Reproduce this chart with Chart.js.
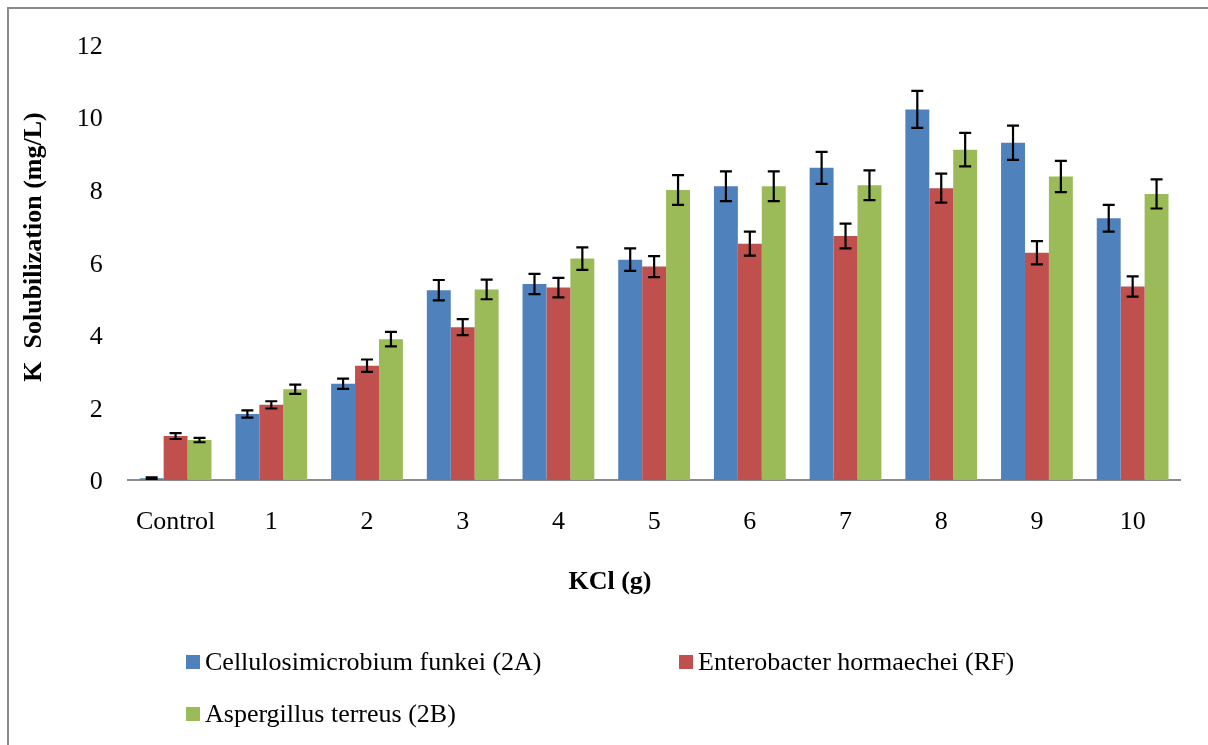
<!DOCTYPE html>
<html>
<head>
<meta charset="utf-8">
<script src="https://cdn.jsdelivr.net/npm/chart.js@4"></script>
<style>
  html, body { margin: 0; padding: 0; background: #ffffff; overflow: hidden; }
  #wrap { position: relative; width: 1208px; height: 745px; }
</style>
</head>
<body>
<div id="wrap"><canvas id="c" width="1208" height="745"></canvas></div>
<script>
// KCl dose groups
const categories = ['Control', '1', '2', '3', '4', '5', '6', '7', '8', '9', '10'];

// K solubilization (mg/L), mean values per isolate
const cellulosimicrobium = [0.05, 1.82, 2.65, 5.23, 5.40, 6.07, 8.09, 8.60, 10.21, 9.29, 7.21];
const enterobacter       = [1.21, 2.07, 3.15, 4.21, 5.30, 5.88, 6.51, 6.72, 8.04, 6.26, 5.33];
const aspergillus        = [1.10, 2.50, 3.88, 5.25, 6.10, 7.99, 8.09, 8.12, 9.10, 8.36, 7.88];

// standard errors
const cellulosimicrobiumErr = [0.02, 0.10, 0.14, 0.28, 0.28, 0.31, 0.41, 0.44, 0.51, 0.47, 0.37];
const enterobacterErr       = [0.08, 0.10, 0.17, 0.22, 0.27, 0.29, 0.33, 0.34, 0.40, 0.32, 0.28];
const aspergillusErr        = [0.06, 0.13, 0.20, 0.27, 0.31, 0.41, 0.41, 0.41, 0.46, 0.43, 0.40];

const seriesNames = ['Cellulosimicrobium funkei (2A)', 'Enterobacter hormaechei (RF)', 'Aspergillus terreus (2B)'];
const yTicks = [0, 2, 4, 6, 8, 10, 12];

const xTitle = 'KCl (g)';
const yTitle = 'K  Solubilization (mg/L)';

const FONT = '"Liberation Serif", "Times New Roman", serif';

// error bars drawn on top of each bar
const errorBars = {
  id: 'errorBars',
  afterDatasetsDraw(chart) {
    const ctx = chart.ctx;
    const y = chart.scales.y;
    ctx.save();
    ctx.strokeStyle = '#000000';
    ctx.lineWidth = 2.2;
    chart.data.datasets.forEach((ds, i) => {
      const meta = chart.getDatasetMeta(i);
      meta.data.forEach((bar, j) => {
        const v = ds.data[j], e = ds.errors[j];
        const top = y.getPixelForValue(v + e);
        const bot = y.getPixelForValue(Math.max(0, v - e));
        const x = bar.x, cap = 6;
        ctx.beginPath();
        ctx.moveTo(x, top); ctx.lineTo(x, bot);
        ctx.moveTo(x - cap, top); ctx.lineTo(x + cap, top);
        ctx.moveTo(x - cap, bot); ctx.lineTo(x + cap, bot);
        ctx.stroke();
      });
    });
    ctx.restore();
  }
};

// frame, axis titles and legend
const decorations = {
  id: 'decorations',
  beforeDraw(chart) {
    const ctx = chart.ctx;
    ctx.save();
    ctx.fillStyle = '#ffffff';
    ctx.fillRect(0, 0, chart.width, chart.height);
    ctx.strokeStyle = '#8a8a8a';
    ctx.lineWidth = 2;
    ctx.beginPath();
    ctx.moveTo(8, chart.height);
    ctx.lineTo(8, 8);
    ctx.lineTo(chart.width, 8);
    ctx.stroke();
    ctx.restore();
  },
  afterDraw(chart) {
    const ctx = chart.ctx;
    ctx.save();
    ctx.fillStyle = '#000000';
    ctx.textBaseline = 'middle';
    ctx.textAlign = 'center';
    ctx.font = 'bold 26px ' + FONT;
    ctx.fillText(xTitle, 610, 582);
    ctx.save();
    ctx.translate(34, 247);
    ctx.rotate(-Math.PI / 2);
    ctx.fillText(yTitle, 0, 0);
    ctx.restore();

    // legend
    const spots = [[186, 662], [679, 662], [186, 714]];
    ctx.font = '26px ' + FONT;
    ctx.textAlign = 'left';
    chart.data.datasets.forEach((ds, i) => {
      const [lx, ly] = spots[i];
      ctx.fillStyle = ds.backgroundColor;
      ctx.fillRect(lx, ly - 7, 14, 14);
      ctx.fillStyle = '#000000';
      ctx.fillText(ds.label, lx + 19, ly + 1);
    });
    ctx.restore();
  }
};

const colors = ['#4F81BD', '#C0504D', '#9BBB59'];
const values = [cellulosimicrobium, enterobacter, aspergillus];
const errors = [cellulosimicrobiumErr, enterobacterErr, aspergillusErr];

new Chart(document.getElementById('c'), {
  type: 'bar',
  data: {
    labels: categories,
    datasets: values.map((d, i) => ({
      label: seriesNames[i],
      data: d,
      errors: errors[i],
      backgroundColor: colors[i],
      borderWidth: 0,
      categoryPercentage: 0.75,
      barPercentage: 1.0
    }))
  },
  options: {
    responsive: false,
    devicePixelRatio: 1,
    animation: false,
    layout: { padding: { left: 0, right: 27.5, top: 44.4, bottom: 0 } },
    plugins: {
      legend: { display: false },
      tooltip: { enabled: false }
    },
    scales: {
      x: {
        grid: { display: false, drawTicks: false },
        border: { display: true, color: '#8c8c8c', width: 2 },
        ticks: { color: '#000000', font: { family: FONT, size: 26 }, padding: 27, maxRotation: 0, autoSkip: false },
        afterFit(scale) { scale.height = 265; }
      },
      y: {
        min: 0,
        max: 12,
        afterBuildTicks(scale) { scale.ticks = yTicks.map(v => ({ value: v })); },
        grid: { display: false, drawTicks: false },
        border: { display: false },
        ticks: { color: '#000000', font: { family: FONT, size: 26 }, padding: 25, labelOffset: 2.5 },
        afterFit(scale) { scale.width = 127.75; }
      }
    }
  },
  plugins: [decorations, errorBars]
});
</script>
</body>
</html>
